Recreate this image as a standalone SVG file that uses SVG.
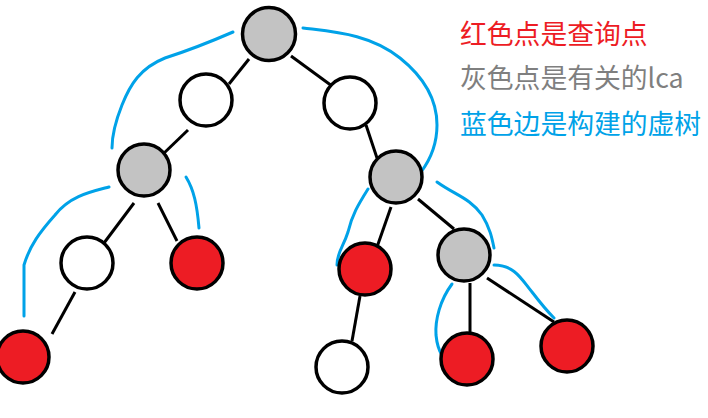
<svg xmlns="http://www.w3.org/2000/svg" width="708" height="418" viewBox="0 0 708 418">
<style>
.n{stroke:#000;stroke-width:3.5}
.g{fill:#c3c3c3}.w{fill:#fff}.r{fill:#ed1c24}
.e{stroke:#000;stroke-width:3;fill:none}
.b{stroke:#00a2e8;stroke-width:3;fill:none;stroke-linecap:round;stroke-linejoin:round}
.t{font-family:"Noto Sans CJK SC","Microsoft YaHei",sans-serif;font-size:26.8px}
</style>
<rect width="708" height="418" fill="#fff"/>
<g id="connectors">
<line class="e" x1="249" y1="59" x2="229" y2="84"/>
<line class="e" x1="291" y1="56" x2="332" y2="86"/>
<line class="e" x1="188" y1="130" x2="162" y2="155"/>
<line class="e" x1="366" y1="125" x2="377" y2="158"/>
<line class="e" x1="134" y1="203" x2="104" y2="243"/>
<line class="e" x1="158" y1="203" x2="177" y2="241"/>
<line class="e" x1="75" y1="292" x2="52" y2="334"/>
<line class="e" x1="391" y1="207" x2="377" y2="247"/>
<line class="e" x1="418" y1="199" x2="454" y2="229"/>
<line class="e" x1="360" y1="296" x2="352" y2="341"/>
<line class="e" x1="470" y1="283" x2="470" y2="333"/>
<line class="e" x1="487" y1="278" x2="554" y2="322"/>
<path class="b" d="M233,32 C210,42 190,50 165,58 C140,68 130,85 122,105 C116,120 112,135 112,148"/>
<path class="b" d="M303,28 C335,32 370,34 400,58 C425,78 437,100 437,125 C437,145 430,160 421,172"/>
<path class="b" d="M109,187 C90,192 70,196 55,215 C40,232 30,245 24,265 L24,316"/>
<path class="b" d="M186,177 C194,190 197,205 199,228"/>
<path class="b" d="M368,189 C358,205 352,215 348,232 C343,248 337,252 337,265"/>
<path class="b" d="M437,182 C455,195 470,198 482,215 C490,228 492,238 494,248"/>
<path class="b" d="M452,284 C440,300 435,320 436,335 C437,345 440,352 442,355"/>
<path class="b" d="M494,265 C515,265 522,280 532,292 C542,305 548,312 554,318"/>
</g>
<g id="n1"><circle class="n g" cx="269" cy="34" r="26.5"/></g>
<g id="n2"><circle class="n w" cx="206" cy="100" r="26"/></g>
<g id="n3"><circle class="n w" cx="350" cy="103" r="26"/></g>
<g id="n4"><circle class="n g" cx="144" cy="170" r="26"/></g>
<g id="n5"><circle class="n g" cx="396" cy="177" r="26"/></g>
<g id="n6"><circle class="n w" cx="87" cy="263" r="26"/></g>
<g id="n7"><circle class="n r" cx="197" cy="263" r="26"/></g>
<g id="n8"><circle class="n r" cx="365" cy="269" r="26"/></g>
<g id="n9"><circle class="n g" cx="464" cy="255" r="26"/></g>
<g id="n10"><circle class="n r" cx="23" cy="357" r="26"/></g>
<g id="n11"><circle class="n w" cx="342" cy="367" r="26"/></g>
<g id="n12"><circle class="n r" cx="467" cy="359" r="26"/></g>
<g id="n13"><circle class="n r" cx="567" cy="346" r="26"/></g>
<g id="legend">
<text class="t" x="460" y="44" fill="#ed1c24">红色点是查询点</text>
<text class="t" x="460" y="88" fill="#7f7f7f">灰色点是有关的lca</text>
<text class="t" x="460" y="134" fill="#00a2e8">蓝色边是构建的虚树</text>
</g>
</svg>
